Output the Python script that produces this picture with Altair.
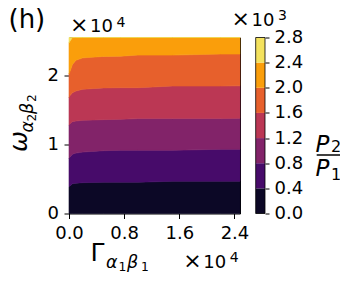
import altair as alt
import pandas as pd

# ---- data (units: x, y in 1e4; ratio in 1e3) ----
x_vals = [0, 0.015, 0.05, 0.1, 0.2, 0.5, 0.75, 1.0, 1.5, 2.2, 2.48]
b04 = [0.39, 0.40, 0.43, 0.44, 0.447, 0.452, 0.453, 0.453, 0.467, 0.467, 0.467]
b08 = [0.80, 0.82, 0.86, 0.875, 0.89, 0.91, 0.916, 0.916, 0.916, 0.93, 0.93]
b12 = [1.28, 1.30, 1.33, 1.34, 1.35, 1.36, 1.365, 1.375, 1.375, 1.375, 1.38]
b16 = [1.68, 1.71, 1.75, 1.775, 1.80, 1.82, 1.823, 1.823, 1.847, 1.847, 1.85]
b20 = [2.02, 2.06, 2.16, 2.22, 2.255, 2.276, 2.28, 2.295, 2.295, 2.31, 2.31]
b24 = [2.47, 2.50, 2.55, 2.55, 2.55, 2.55, 2.55, 2.55, 2.55, 2.55, 2.55]
levels = [0.0, 0.4, 0.8, 1.2, 1.6, 2.0, 2.4, 2.8]
colors = ["#0c0826", "#470b6a", "#822369", "#bb3754", "#e7602c", "#fa9e0b", "#f4e25e"]
x_ticks = [0.0, 0.8, 1.6, 2.4]
y_ticks = [0, 1, 2]

X_MAX = 2.48
Y_MAX = 2.55
W, H = 171, 176
FONT = "DejaVu Sans"

band_names = [f"{levels[k]:.1f}-{levels[k+1]:.1f}" for k in range(7)]
bottom = [0.0] * len(x_vals)
top = [Y_MAX] * len(x_vals)
bounds = [bottom, b04, b08, b12, b16, b20, b24, top]

rows = []
for k in range(7):
    for i, xv in enumerate(x_vals):
        rows.append({"band": band_names[k], "x": xv,
                     "lo": bounds[k][i], "hi": bounds[k + 1][i]})
df = pd.DataFrame(rows)

cb = pd.DataFrame({"band": band_names, "lo": levels[:-1], "hi": levels[1:]})
cb_frame = pd.DataFrame({"lo": [levels[0]], "hi": [levels[-1]]})

color_scale = alt.Scale(domain=band_names, range=colors)

area = alt.Chart(df).mark_area(interpolate="linear", strokeWidth=0.6).encode(
    x=alt.X("x:Q", scale=alt.Scale(domain=[0, X_MAX], nice=False, zero=False),
            axis=alt.Axis(values=x_ticks, format=".1f", title=None, labelFlush=False,
                          labelOverlap=False, tickSize=5, labelPadding=6)),
    y=alt.Y("lo:Q", stack=None, scale=alt.Scale(domain=[0, Y_MAX], nice=False, zero=False),
            axis=alt.Axis(values=y_ticks, format="d", title=None, tickSize=5,
                          labelPadding=5.5)),
    y2="hi:Q",
    color=alt.Color("band:N", scale=color_scale, legend=None),
    stroke=alt.Stroke("band:N", scale=color_scale, legend=None),
    detail="band:N",
)

cbar = alt.Chart(cb).mark_rect().encode(
    x=alt.value(186.7), x2=alt.value(196),
    y=alt.Y("lo:Q", scale=alt.Scale(domain=[levels[0], levels[-1]], nice=False, zero=False),
            axis=alt.Axis(orient="right", offset=25, values=levels, format=".1f",
                          title=None, tickSize=4, labelPadding=5, labelFlush=False)),
    y2="hi:Q",
    color=alt.Color("band:N", scale=color_scale, legend=None),
)

cbar_frame = alt.Chart(cb_frame).mark_rect(fillOpacity=0, stroke="black", strokeWidth=0.8).encode(
    x=alt.value(186.7), x2=alt.value(196),
    y=alt.Y("lo:Q", scale=alt.Scale(domain=[levels[0], levels[-1]], nice=False, zero=False), axis=None),
    y2="hi:Q",
)

one = pd.DataFrame({"a": [0]})


def label(text, x, y, size, angle=0, style="normal", align="left"):
    return alt.Chart(one).mark_text(
        text=text, font=FONT, fontSize=size, fontStyle=style, angle=angle,
        align=align, baseline="alphabetic", color="black",
    ).encode(x=alt.value(x), y=alt.value(y))


def offset_text(x, y, exp):
    # "×10^exp" as matplotlib draws its offset text
    return [label("×", x, y, 22), label("10", x + 20, y, 18),
            label(exp, x + 46.5, y - 5.8, 14)]


texts = [
    label("(h)", -60.5, -9.5, 26),
    *offset_text(1, -5.2, "4"),        # top-left
    *offset_text(162.6, -11.8, "3"),   # above colorbar
    *offset_text(114.3, 230.2, "4"),   # bottom-right
    # x title
    label("Γ", 21.5, 223.5, 25),
    label("α", 37, 230.5, 17.5, style="italic"), label("1", 49.5, 233, 12.3),
    label("β", 58, 230.5, 17.5, style="italic"), label("1", 72, 233, 12.3),
    # y title (rotated)
    label("ω", -42, 114.5, 25, angle=270, style="italic"),
    label("α", -36, 95, 17.5, angle=270, style="italic"), label("2", -33.5, 84, 12.3, angle=270),
    label("β", -36, 76.5, 17.5, angle=270, style="italic"), label("2", -33.5, 64.5, 12.3, angle=270),
    # colorbar label P2/P1
    label("P", 246.5, 114.2, 23, style="italic"), label("2", 262, 114, 16),
    label("P", 246.5, 138, 23, style="italic"), label("1", 262, 142.5, 16),
]

bar = alt.Chart(one).mark_rule(color="black", strokeWidth=1.5).encode(
    x=alt.value(247.7), x2=alt.value(275), y=alt.value(117.5)
)

chart = alt.layer(area, cbar, cbar_frame, bar, *texts).resolve_scale(
    y="independent"
).properties(
    width=W, height=H, background="white",
    autosize=alt.AutoSizeParams(type="none"),
    padding={"left": 61, "top": 29.5, "right": 100, "bottom": 60},
).configure_view(
    stroke="black", strokeWidth=1
).configure_axis(
    labelFont=FONT, labelFontSize=18, labelColor="black", tickColor="black",
    tickWidth=1, grid=False, domain=False,
)

chart.save("out.html", embed_options={"renderer": "svg", "actions": False})
